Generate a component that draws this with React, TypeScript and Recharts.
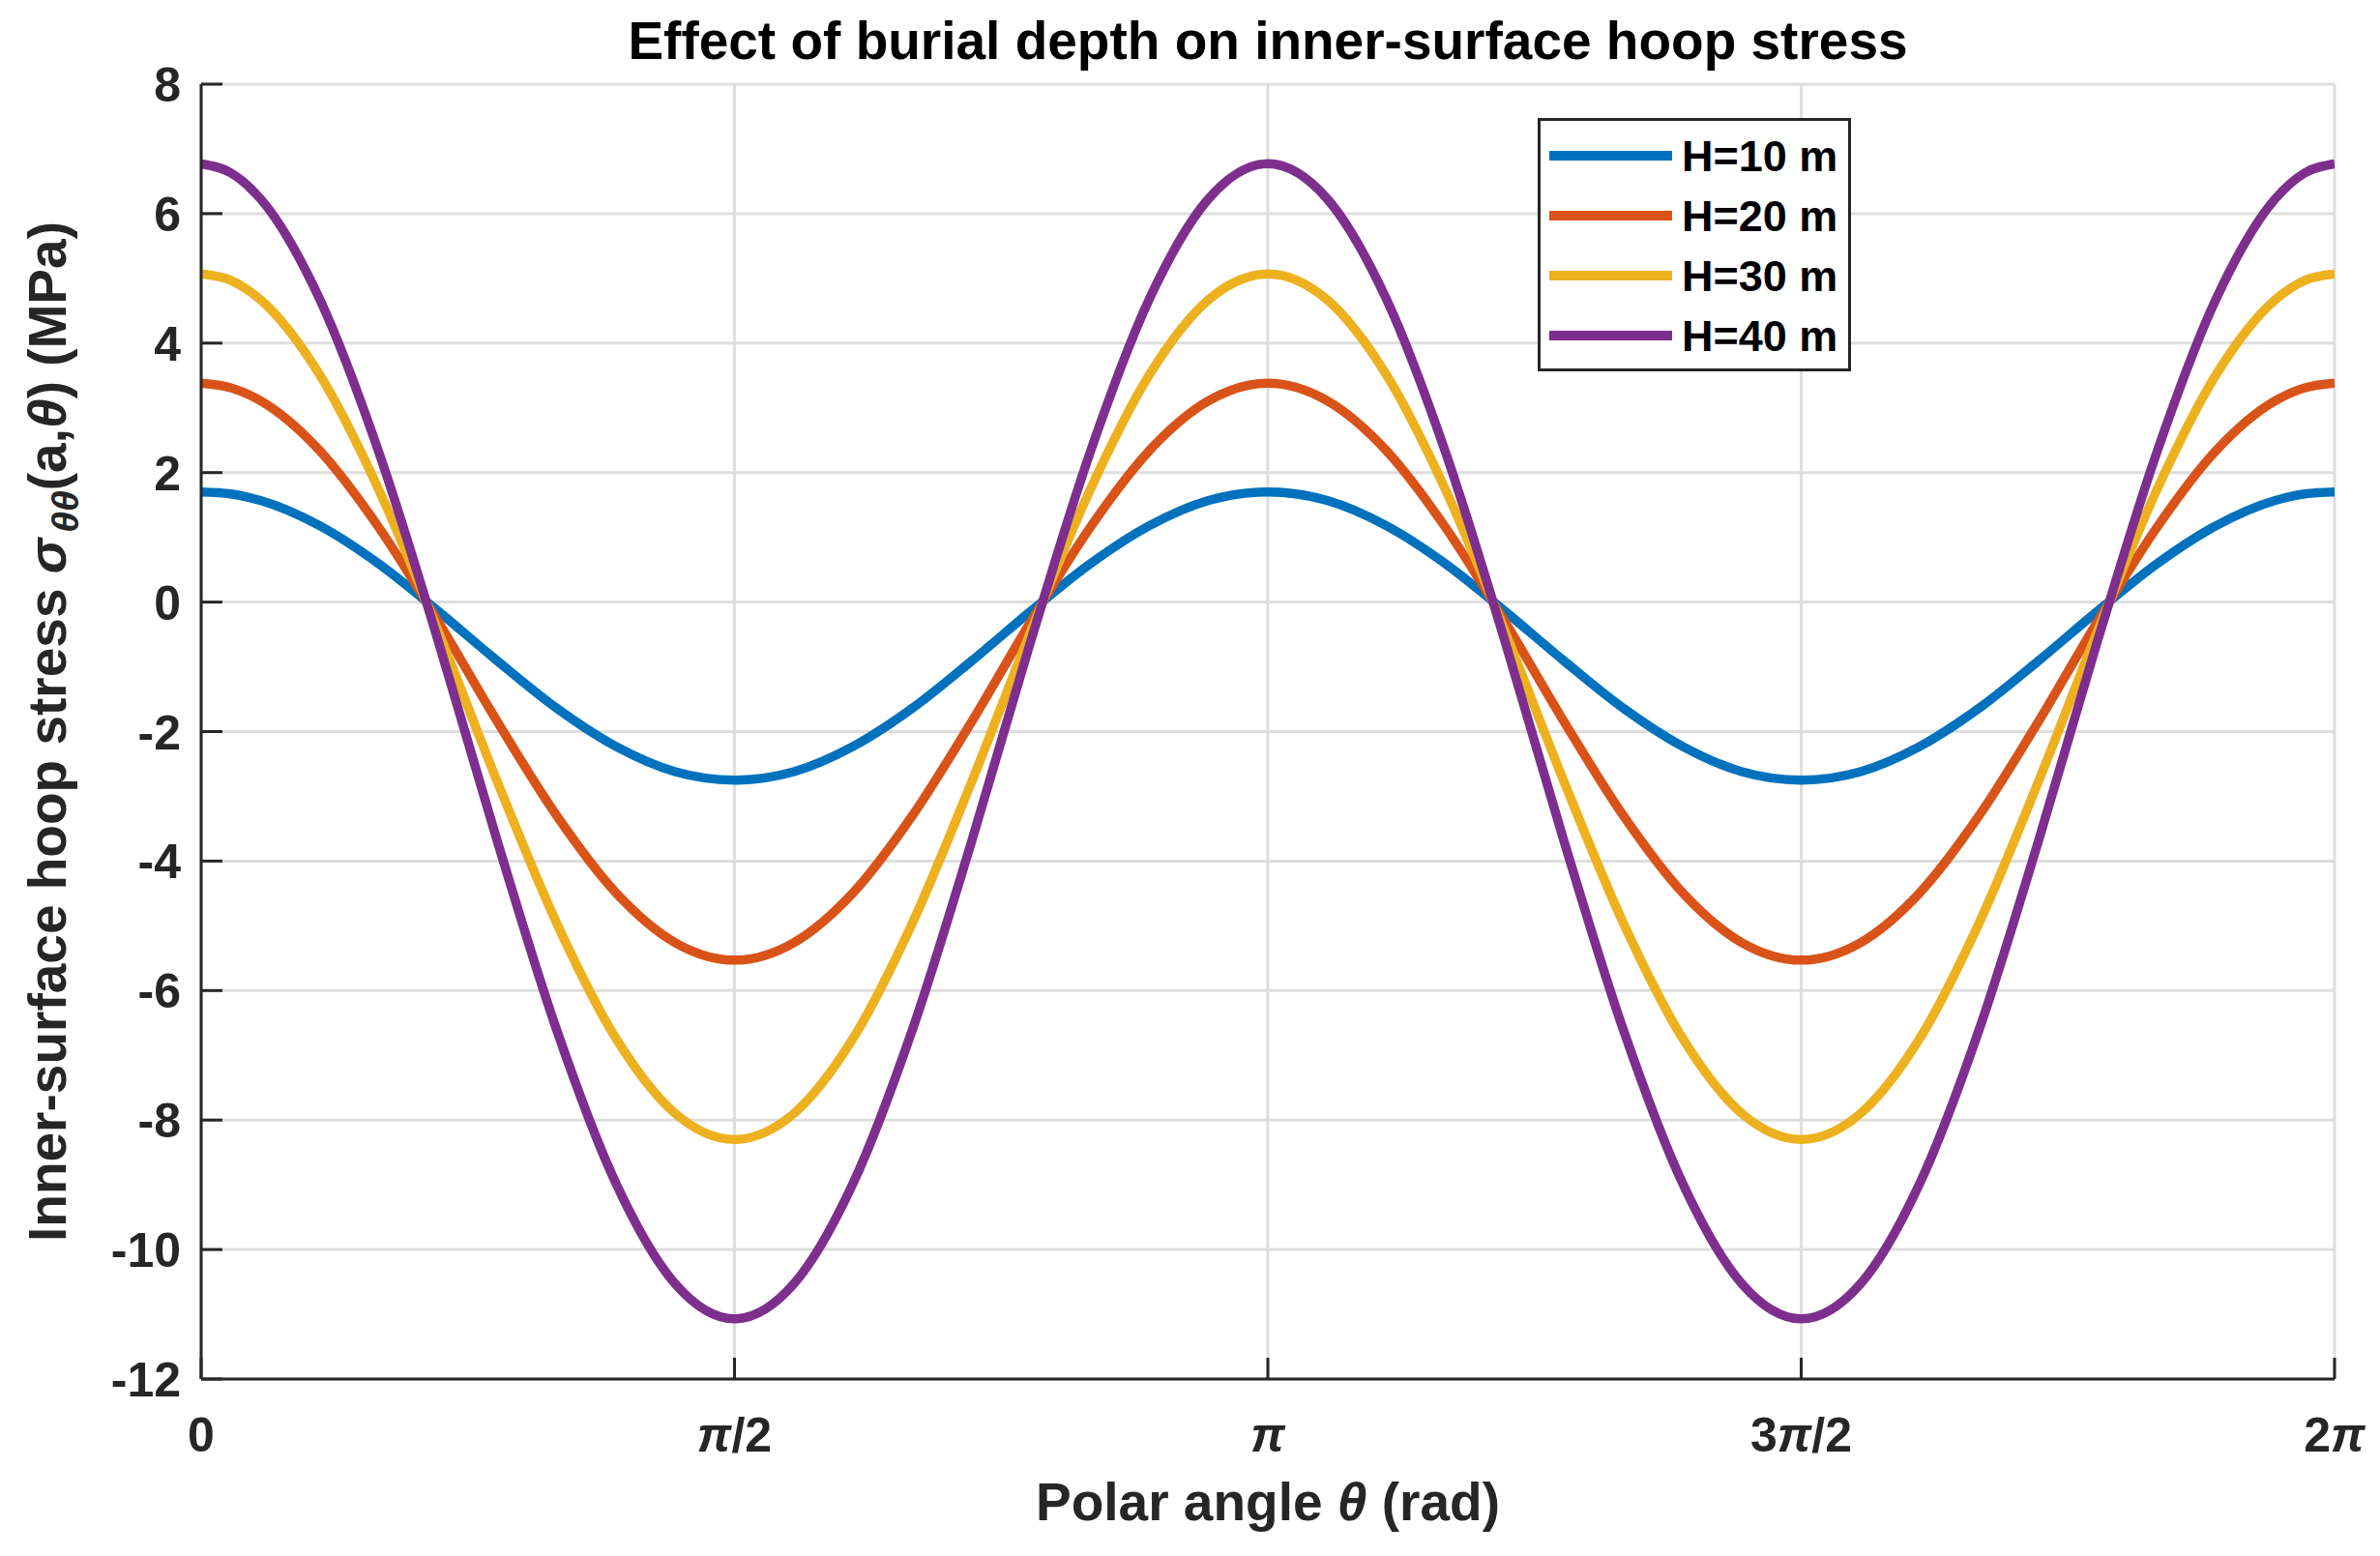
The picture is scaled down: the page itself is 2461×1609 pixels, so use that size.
import { CartesianGrid, Label, Legend, Line, LineChart, XAxis, YAxis } from 'recharts';

// Polar angle samples in degrees (MPa).
// Extra 5° samples next to both ends keep the peaks at 0 and 2π round.
const THETA_DEG = [
  0, 5, 10, 20, 30, 40, 50, 60, 70, 80, 90, 100, 110, 120, 130, 140, 150, 160, 170, 180,
  190, 200, 210, 220, 230, 240, 250, 260, 270, 280, 290, 300, 310, 320, 330, 340, 350, 355, 360,
];

const H10 = [
  1.7, 1.67, 1.57, 1.18, 0.59, -0.14, -0.91, -1.64, -2.23, -2.62, -2.75, -2.62, -2.23, -1.64, -0.91, -0.14, 0.59, 1.18, 1.57, 1.7,
  1.57, 1.18, 0.59, -0.14, -0.91, -1.64, -2.23, -2.62, -2.75, -2.62, -2.23, -1.64, -0.91, -0.14, 0.59, 1.18, 1.57, 1.67, 1.7,
];
const H20 = [
  3.38, 3.31, 3.11, 2.34, 1.15, -0.3, -1.85, -3.3, -4.49, -5.26, -5.53, -5.26, -4.49, -3.3, -1.85, -0.3, 1.15, 2.34, 3.11, 3.38,
  3.11, 2.34, 1.15, -0.3, -1.85, -3.3, -4.49, -5.26, -5.53, -5.26, -4.49, -3.3, -1.85, -0.3, 1.15, 2.34, 3.11, 3.31, 3.38,
];
const H30 = [
  5.07, 4.97, 4.67, 3.51, 1.73, -0.45, -2.78, -4.96, -6.74, -7.9, -8.3, -7.9, -6.74, -4.96, -2.78, -0.45, 1.73, 3.51, 4.67, 5.07,
  4.67, 3.51, 1.73, -0.45, -2.78, -4.96, -6.74, -7.9, -8.3, -7.9, -6.74, -4.96, -2.78, -0.45, 1.73, 3.51, 4.67, 4.97, 5.07,
];
const H40 = [
  6.77, 6.63, 6.23, 4.68, 2.31, -0.6, -3.7, -6.61, -8.98, -10.53, -11.07, -10.53, -8.98, -6.61, -3.7, -0.6, 2.31, 4.68, 6.23, 6.77,
  6.23, 4.68, 2.31, -0.6, -3.7, -6.61, -8.98, -10.53, -11.07, -10.53, -8.98, -6.61, -3.7, -0.6, 2.31, 4.68, 6.23, 6.63, 6.77,
];

const SERIES = [
  { key: 'h10', name: 'H=10 m', color: '#0072BD', values: H10 },
  { key: 'h20', name: 'H=20 m', color: '#D95319', values: H20 },
  { key: 'h30', name: 'H=30 m', color: '#EDB120', values: H30 },
  { key: 'h40', name: 'H=40 m', color: '#7E2F8E', values: H40 },
];

const X_TICKS = [0, 90, 180, 270, 360];
const X_TICK_LABELS = ['0', 'π/2', 'π', '3π/2', '2π'];
const Y_TICKS = [-12, -10, -8, -6, -4, -2, 0, 2, 4, 6, 8];

const W = 2461;
const H = 1609;
const FONT = "'Liberation Sans', Arial, Helvetica, sans-serif";
const AXIS = '#262626';
const GRID = '#dedede';
const TICK_LEN = 22;

const data = THETA_DEG.map((theta, i) => {
  const row: Record<string, number> = { theta };
  SERIES.forEach((s) => {
    row[s.key] = s.values[i];
  });
  return row;
});

// splits "3π/2" so the π can be set in italic like the TeX tick labels
function piText(label: string) {
  const parts = label.split('π');
  return parts.map((p, i) => (
    <tspan key={i}>
      {p}
      {i < parts.length - 1 && <tspan fontStyle="italic">π</tspan>}
    </tspan>
  ));
}

function BottomTick({ x, y, index }: any) {
  return (
    <g>
      <line x1={x} y1={y} x2={x} y2={y - TICK_LEN} stroke={AXIS} strokeWidth={3} />
      <text x={x} y={y + 75} textAnchor="middle" fontFamily={FONT} fontWeight="bold" fontSize={50} fill={AXIS}>
        {piText(X_TICK_LABELS[index] ?? '')}
      </text>
    </g>
  );
}

function TopTick({ x, y }: any) {
  return <line x1={x} y1={y} x2={x} y2={y + TICK_LEN} stroke={AXIS} strokeWidth={3} />;
}

function LeftTick({ x, y, payload }: any) {
  return (
    <g>
      <line x1={x} y1={y} x2={x + TICK_LEN} y2={y} stroke={AXIS} strokeWidth={3} />
      <text x={x - 21} y={y + 18} textAnchor="end" fontFamily={FONT} fontWeight="bold" fontSize={50} fill={AXIS}>
        {payload.value}
      </text>
    </g>
  );
}

function RightTick({ x, y }: any) {
  return <line x1={x} y1={y} x2={x - TICK_LEN} y2={y} stroke={AXIS} strokeWidth={3} />;
}

function XLabel({ viewBox }: any) {
  const cx = viewBox.x + viewBox.width / 2;
  return (
    <text x={cx} y={viewBox.y + 146} textAnchor="middle" fontFamily={FONT} fontWeight="bold" fontSize={55} fill={AXIS}>
      Polar angle <tspan fontStyle="italic">θ</tspan> (rad)
    </text>
  );
}

function YLabel({ viewBox }: any) {
  const cy = viewBox.y + viewBox.height / 2;
  return (
    <text
      transform={`translate(68, ${cy}) rotate(-90)`}
      textAnchor="middle"
      fontFamily={FONT}
      fontWeight="bold"
      fontSize={55}
      fill={AXIS}
    >
      Inner-surface hoop stress <tspan fontStyle="italic">σ</tspan>
      <tspan fontStyle="italic" fontSize={39} dx={6} dy={13}>θθ</tspan>
      <tspan dy={-13}>(a,</tspan>
      <tspan fontStyle="italic">θ</tspan>) (MPa)
    </text>
  );
}

function LegendBox({ payload }: any) {
  const items = payload && payload.length ? payload.map((p: any) => ({ name: p.value, color: p.color })) : SERIES;
  return (
    <div
      style={{
        boxSizing: 'border-box',
        width: 324,
        height: 262,
        border: `3px solid ${AXIS}`,
        background: '#fff',
        paddingTop: 5,
      }}
    >
      {items.map((d: any) => (
        <div key={d.name} style={{ display: 'flex', alignItems: 'center', height: 62 }}>
          <span style={{ marginLeft: 9, width: 127, height: 9.5, background: d.color }} />
          <span
            style={{
              marginLeft: 10,
              fontFamily: FONT,
              fontWeight: 'bold',
              fontSize: 45,
              lineHeight: 1,
              color: '#000',
            }}
          >
            {d.name}
          </span>
        </div>
      ))}
    </div>
  );
}

export default function App() {
  return (
    <div style={{ position: 'absolute', left: 0, top: 0, width: W, height: H, background: '#fff' }}>
      <div
        style={{
          position: 'absolute',
          left: 208,
          width: 2206,
          top: 15,
          textAlign: 'center',
          fontFamily: FONT,
          fontWeight: 'bold',
          fontSize: 55,
          lineHeight: '55px',
          color: '#000',
        }}
      >
        Effect of burial depth on inner-surface hoop stress
      </div>
      <LineChart width={W} height={H} data={data} margin={{ top: 87, right: 47, left: 0, bottom: 0 }}>
        <CartesianGrid stroke={GRID} strokeWidth={3} />
        <XAxis
          dataKey="theta"
          type="number"
          domain={[0, 360]}
          ticks={X_TICKS}
          interval={0}
          height={183}
          tickSize={0}
          tickMargin={0}
          tickLine={false}
          axisLine={{ stroke: AXIS, strokeWidth: 3 }}
          tick={<BottomTick />}
          allowDataOverflow
        >
          <Label content={<XLabel />} />
        </XAxis>
        <XAxis
          xAxisId="top"
          orientation="top"
          type="number"
          domain={[0, 360]}
          ticks={X_TICKS}
          interval={0}
          height={0}
          tickSize={0}
          tickMargin={0}
          tickLine={false}
          axisLine={{ stroke: AXIS, strokeWidth: 3 }}
          tick={<TopTick />}
          allowDataOverflow
        />
        <YAxis
          type="number"
          domain={[-12, 8]}
          ticks={Y_TICKS}
          interval={0}
          width={208}
          tickSize={0}
          tickMargin={0}
          tickLine={false}
          axisLine={{ stroke: AXIS, strokeWidth: 3 }}
          tick={<LeftTick />}
          allowDataOverflow
        >
          <Label content={<YLabel />} />
        </YAxis>
        <YAxis
          yAxisId="right"
          orientation="right"
          type="number"
          domain={[-12, 8]}
          ticks={Y_TICKS}
          interval={0}
          width={0}
          tickSize={0}
          tickMargin={0}
          tickLine={false}
          axisLine={{ stroke: AXIS, strokeWidth: 3 }}
          tick={<RightTick />}
          allowDataOverflow
        />
        {SERIES.map((s) => (
          <Line
            key={s.key}
            dataKey={s.key}
            name={s.name}
            type="monotoneX"
            stroke={s.color}
            strokeWidth={9.5}
            dot={false}
            activeDot={false}
            isAnimationActive={false}
          />
        ))}
        <Legend
          layout="vertical"
          align="center"
          verticalAlign="middle"
          content={<LegendBox />}
          wrapperStyle={{ left: 1590, top: 122, width: 324, height: 262 }}
        />
      </LineChart>
    </div>
  );
}
